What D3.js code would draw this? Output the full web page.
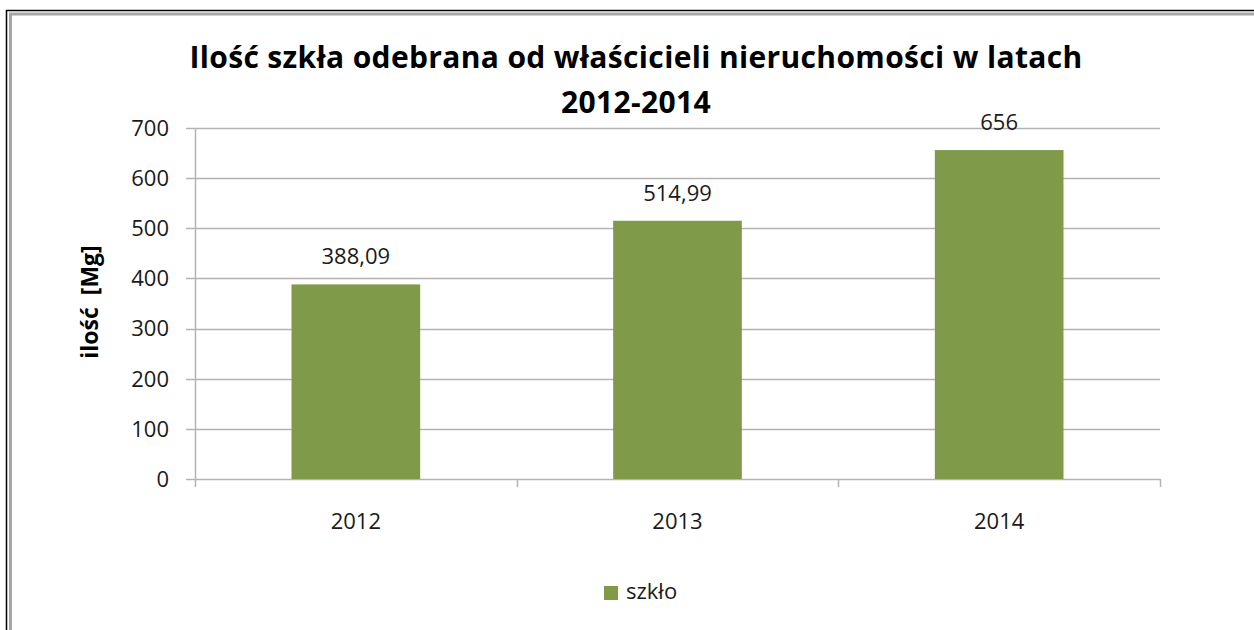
<!DOCTYPE html>
<html>
<head>
<meta charset="utf-8">
<script src="https://cdn.jsdelivr.net/npm/d3@7"></script>
<style>
	body { margin: 0; background: #fff; }
	svg { font-family: "Open Sans", Lato, sans-serif; }
</style>
</head>
<body>
<svg></svg>
<script>
var WIDTH = 1254;
var HEIGHT = 630;

var years = ['2012', '2013', '2014'];
var values = [388.09, 514.99, 656];
var valueLabels = ['388,09', '514,99', '656'];
var yTicks = [0, 100, 200, 300, 400, 500, 600, 700];
var seriesName = 'szkło';
var titleLines = ['Ilość szkła odebrana od właścicieli nieruchomości w latach', '2012-2014'];
var yTitle = 'ilość  [Mg]';

var BAR_COLOR = '#7f9a48';
var GRID_COLOR = '#b3b3b3';
var TEXT_SIZE = 22;

var svg = d3.select('svg')
	.attr('width', WIDTH)
	.attr('height', HEIGHT);

// frame (black outer line + gray inner)
svg.append('path')
	.attr('d', 'M6.5,' + HEIGHT + 'V10.5H' + WIDTH)
	.attr('fill', 'none')
	.attr('stroke', '#000')
	.attr('stroke-width', 1.5);
svg.append('path')
	.attr('d', 'M10.5,' + HEIGHT + 'V14H' + WIDTH)
	.attr('fill', 'none')
	.attr('stroke', '#a6a6a6')
	.attr('stroke-width', 3);

var plot = {left: 195, right: 1160, top: 128, bottom: 479};

var x = d3.scaleBand()
	.domain(years)
	.range([plot.left, plot.right]);

var y = d3.scaleLinear()
	.domain([0, 700])
	.range([plot.bottom, plot.top]);

// gridlines
svg.append('g')
	.selectAll('line')
	.data(yTicks)
	.enter()
	.append('line')
	.attr('x1', plot.left - 9)
	.attr('x2', plot.right)
	.attr('y1', function(d){ return Math.round(y(d)) + 0.5; })
	.attr('y2', function(d){ return Math.round(y(d)) + 0.5; })
	.attr('stroke', GRID_COLOR)
	.attr('stroke-width', 1.5);

// y axis labels
svg.append('g')
	.selectAll('text')
	.data(yTicks)
	.enter()
	.append('text')
	.attr('x', plot.left - 26)
	.attr('y', function(d){ return y(d); })
	.attr('dy', '0.36em')
	.attr('text-anchor', 'end')
	.attr('font-size', TEXT_SIZE)
	.attr('fill', '#1a1a1a')
	.text(function(d){ return d; });

// y axis line
svg.append('line')
	.attr('x1', plot.left + 0.5)
	.attr('x2', plot.left + 0.5)
	.attr('y1', plot.top)
	.attr('y2', plot.bottom)
	.attr('stroke', GRID_COLOR)
	.attr('stroke-width', 1.5);

// x axis tick marks at category boundaries
var boundaries = years.map(function(d){ return x(d); }).concat([plot.right]);
svg.append('g')
	.selectAll('line')
	.data(boundaries)
	.enter()
	.append('line')
	.attr('x1', function(d){ return Math.round(d) + 0.5; })
	.attr('x2', function(d){ return Math.round(d) + 0.5; })
	.attr('y1', plot.bottom)
	.attr('y2', plot.bottom + 8)
	.attr('stroke', GRID_COLOR)
	.attr('stroke-width', 1.5);

// bars
var barWidth = x.bandwidth() * 0.4;
var data = years.map(function(d, i){
	return {year: d, value: values[i], label: valueLabels[i]};
});

svg.append('g')
	.selectAll('rect')
	.data(data)
	.enter()
	.append('rect')
	.attr('x', function(d){ return x(d.year) + (x.bandwidth() - barWidth) / 2; })
	.attr('y', function(d){ return y(d.value); })
	.attr('width', barWidth)
	.attr('height', function(d){ return y(0) - y(d.value); })
	.attr('fill', BAR_COLOR);

// value labels
svg.append('g')
	.selectAll('text')
	.data(data)
	.enter()
	.append('text')
	.attr('x', function(d){ return x(d.year) + x.bandwidth() / 2; })
	.attr('y', function(d){ return y(d.value) - 20; })
	.attr('text-anchor', 'middle')
	.attr('font-size', TEXT_SIZE)
	.attr('fill', '#1a1a1a')
	.text(function(d){ return d.label; });

// x labels
svg.append('g')
	.selectAll('text')
	.data(years)
	.enter()
	.append('text')
	.attr('x', function(d){ return x(d) + x.bandwidth() / 2; })
	.attr('y', 529)
	.attr('text-anchor', 'middle')
	.attr('font-size', TEXT_SIZE)
	.attr('fill', '#1a1a1a')
	.text(function(d){ return d; });

// title
svg.append('g')
	.selectAll('text')
	.data(titleLines)
	.enter()
	.append('text')
	.attr('x', 636)
	.attr('y', function(d, i){ return 68 + i * 45; })
	.attr('text-anchor', 'middle')
	.attr('font-size', 30)
	.attr('font-weight', 'bold')
	.attr('letter-spacing', 0.35)
	.attr('fill', '#000')
	.text(function(d){ return d; });

// y axis title
svg.append('text')
	.attr('transform', 'translate(98,302) rotate(-90)')
	.attr('text-anchor', 'middle')
	.attr('font-size', 23)
	.attr('font-weight', 'bold')
	.attr('fill', '#000')
	.style('white-space', 'pre')
	.text(yTitle);

// legend
var legend = svg.append('g').attr('transform', 'translate(604,586)');
legend.append('rect')
	.attr('width', 14)
	.attr('height', 14)
	.attr('fill', BAR_COLOR);
legend.append('text')
	.attr('x', 22)
	.attr('y', 13)
	.attr('font-size', TEXT_SIZE)
	.attr('fill', '#1a1a1a')
	.text(seriesName);
</script>
</body>
</html>
